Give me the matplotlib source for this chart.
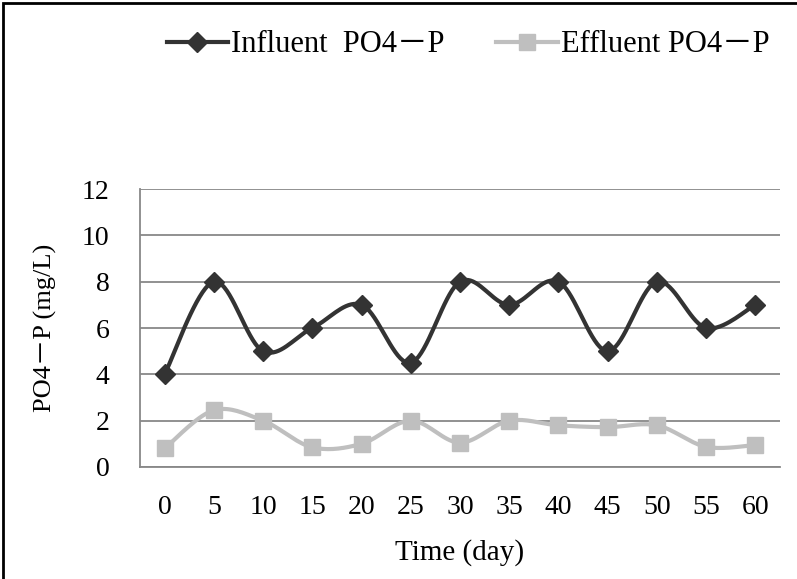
import numpy as np
import matplotlib
matplotlib.use("Agg")
import matplotlib.pyplot as plt
from matplotlib.patches import Rectangle

days = [0, 5, 10, 15, 20, 25, 30, 35, 40, 45, 50, 55, 60]
influent = [4.0, 8.0, 5.0, 6.0, 7.0, 4.5, 8.0, 7.0, 8.0, 5.0, 8.0, 6.0, 7.0]
effluent = [0.8, 2.45, 2.0, 0.85, 1.0, 2.0, 1.05, 2.0, 1.8, 1.72, 1.8, 0.87, 0.95]
y_ticks = [0, 2, 4, 6, 8, 10, 12]

plt.rcParams['font.family'] = ['Liberation Serif', 'Noto Sans CJK KR', 'DejaVu Serif']


def smooth(x, y, n=20):
    # bezier smoothing like a spreadsheet "smoothed line"
    x = np.asarray(x, float)
    y = np.asarray(y, float)
    px = np.concatenate([[x[0]], x, [x[-1]]])
    py = np.concatenate([[y[0]], y, [y[-1]]])
    xs, ys = [], []
    t = np.linspace(0, 1, n)
    for i in range(1, len(px) - 2):
        p0 = np.array([px[i], py[i]])
        p3 = np.array([px[i + 1], py[i + 1]])
        c1 = p0 + (np.array([px[i + 1], py[i + 1]]) - np.array([px[i - 1], py[i - 1]])) / 6
        c2 = p3 - (np.array([px[i + 2], py[i + 2]]) - np.array([px[i], py[i]])) / 6
        b = (((1 - t) ** 3)[:, None] * p0 + (3 * (1 - t) ** 2 * t)[:, None] * c1
             + (3 * (1 - t) * t ** 2)[:, None] * c2 + (t ** 3)[:, None] * p3)
        xs.extend(b[:, 0])
        ys.extend(b[:, 1])
    return np.array(xs), np.array(ys)


fig = plt.figure(figsize=(7.97, 5.79), dpi=100)
ax = fig.add_axes([140 / 797, 1 - 467 / 579, 640 / 797, 278 / 579])

pos = np.arange(len(days))
inf_col = '#333333'
eff_col = '#bfbfbf'
fs = 20

sx, sy = smooth(pos, effluent)
ax.plot(sx, sy, color=eff_col, lw=3, solid_capstyle='round', zorder=3)
ax.plot(pos, effluent, ls='none', marker='s', ms=12, color=eff_col, zorder=4)
sx, sy = smooth(pos, influent)
ax.plot(sx, sy, color=inf_col, lw=3, solid_capstyle='round', zorder=5)
ax.plot(pos, influent, ls='none', marker='D', ms=10, color=inf_col, zorder=6)

ax.set_xlim(-0.5, len(days) - 0.5)
ax.set_ylim(0, 12)
ax.set_yticks(y_ticks)
ax.set_xticks(pos)
ax.set_xticklabels([str(d) for d in days])
ax.tick_params(length=0, labelsize=fs, colors='black')
ax.tick_params(axis='y', pad=22)
ax.tick_params(axis='x', pad=20)
ax.grid(axis='y', color='#888888', lw=1.3)
ax.set_axisbelow(True)
for s in ['top', 'right']:
    ax.spines[s].set_visible(False)
for s in ['left', 'bottom']:
    ax.spines[s].set_color('#888888')
    ax.spines[s].set_linewidth(1.3)

ax.set_xlabel('Time (day)', fontsize=21, labelpad=14)
ax.set_ylabel('PO4\uff0dP (mg/L)', fontsize=19, labelpad=18)

h1, = ax.plot([], [], color=inf_col, lw=3, marker='D', ms=10)
h2, = ax.plot([], [], color=eff_col, lw=3, marker='s', ms=12)
fig.legend([h1, h2], ['Influent  PO4\uff0dP', 'Effluent PO4\uff0dP'],
           loc='center', bbox_to_anchor=(468 / 797, 1 - 45 / 579), ncol=2,
           frameon=False, fontsize=22, handlelength=2.0, columnspacing=1.7,
           handletextpad=0.1)

fig.patches.append(Rectangle((3 / 797, -0.01), 1.0, 1 - 3 / 579 + 0.01,
                             transform=fig.transFigure, fill=False,
                             edgecolor='black', lw=2))

fig.savefig('out.png', dpi=100)
